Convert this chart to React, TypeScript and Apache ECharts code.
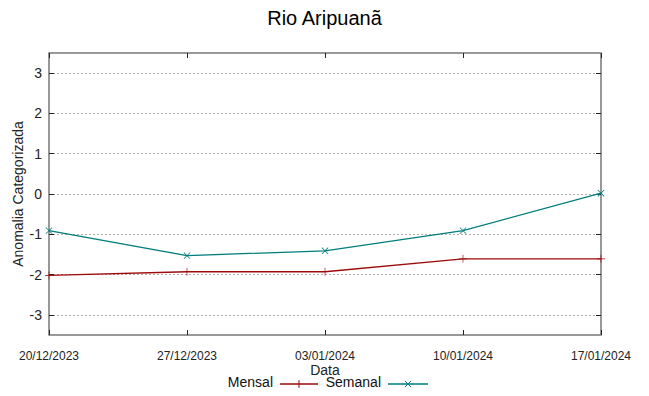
import React, { useEffect, useRef } from "react";
import * as echarts from "echarts";

const dates = ["20/12/2023", "27/12/2023", "03/01/2024", "10/01/2024", "17/01/2024"];
const mensal = [-2.02, -1.93, -1.93, -1.61, -1.61];
const semanal = [-0.91, -1.53, -1.41, -0.91, 0.02];
const yTicks = [-3, -2, -1, 0, 1, 2, 3];

const RED = "#9e0a0a";
const TEAL = "#007d7d";
const FONT = "Liberation Sans, Arial, sans-serif";
const PLUS = "path://M0,4.6L10,4.6L10,5.4L0,5.4Z M4.6,0L5.4,0L5.4,10L4.6,10Z";

export default function App() {
  const ref = useRef<HTMLDivElement>(null);
  useEffect(() => {
    if (!ref.current) return;
    const chart = echarts.init(ref.current, null, { renderer: "svg" });
    const tickStyle = { show: true, inside: true, length: 5, lineStyle: { color: "#222", width: 1 } };
    chart.setOption({
      animation: false,
      textStyle: { fontFamily: FONT },
      title: {
        text: "Rio Aripuanã",
        left: "center",
        top: 3,
        textStyle: { fontFamily: FONT, fontSize: 20, fontWeight: "normal", color: "#000" },
      },
      grid: {
        left: 49,
        right: 48,
        top: 53,
        bottom: 61,
        show: true,
        borderColor: "#777",
        borderWidth: 1.5,
        backgroundColor: "transparent",
      },
      xAxis: [
        {
          type: "category",
          data: dates,
          boundaryGap: false,
          position: "bottom",
          axisLine: { show: false, onZero: false },
          axisTick: { ...tickStyle, interval: 0 },
          axisLabel: { interval: 0, margin: 15, fontSize: 12, color: "#222", fontFamily: FONT },
          splitLine: { show: false },
          name: "Data",
          nameLocation: "middle",
          nameGap: 28,
          nameMoveOverlap: false,
          nameTextStyle: { fontSize: 14, color: "#222", fontFamily: FONT },
        },
        {
          type: "category",
          data: dates,
          boundaryGap: false,
          position: "top",
          axisLine: { show: false, onZero: false },
          axisTick: { ...tickStyle, interval: 0 },
          axisLabel: { show: false },
          splitLine: { show: false },
        },
      ],
      yAxis: [
        {
          type: "value",
          min: -3.5,
          max: 3.5,
          position: "left",
          axisLine: { show: false, onZero: false },
          axisTick: { ...tickStyle, customValues: yTicks },
          axisLabel: { customValues: yTicks, margin: 7, fontSize: 14, color: "#222", fontFamily: FONT },
          splitLine: { show: true, lineStyle: { color: "#aaa", type: [2, 2], width: 1 } },
          name: "Anomalia Categorizada",
          nameLocation: "middle",
          nameGap: 24,
          nameMoveOverlap: false,
          nameTextStyle: { fontSize: 14, color: "#222", fontFamily: FONT },
        },
        {
          type: "value",
          min: -3.5,
          max: 3.5,
          position: "right",
          axisLine: { show: false, onZero: false },
          axisTick: { ...tickStyle, customValues: yTicks },
          axisLabel: { show: false, customValues: yTicks },
          splitLine: { show: false },
        },
      ],
      series: [
        {
          name: "Mensal",
          type: "line",
          data: mensal,
          symbol: PLUS,
          symbolSize: 8,
          itemStyle: { color: RED },
          lineStyle: { color: RED, width: 1.3 },
          z: 3,
        },
        {
          name: "Semanal",
          type: "line",
          data: semanal,
          symbol: PLUS,
          symbolRotate: 45,
          symbolSize: 9,
          itemStyle: { color: TEAL },
          lineStyle: { color: TEAL, width: 1.3 },
          z: 4,
        },
      ],
      graphic: [
        { type: "text", right: 649 - 273, top: 375, style: { text: "Mensal", fontSize: 14, fontFamily: FONT, fill: "#111" } },
        { type: "line", shape: { x1: 280, y1: 384, x2: 318, y2: 384 }, style: { stroke: RED, lineWidth: 1.3 } },
        { type: "line", shape: { x1: 299, y1: 380, x2: 299, y2: 388 }, style: { stroke: RED, lineWidth: 1 } },
        { type: "text", right: 649 - 381, top: 375, style: { text: "Semanal", fontSize: 14, fontFamily: FONT, fill: "#111" } },
        { type: "line", shape: { x1: 388, y1: 384, x2: 428, y2: 384 }, style: { stroke: TEAL, lineWidth: 1.3 } },
        { type: "line", shape: { x1: 405, y1: 381, x2: 411, y2: 387 }, style: { stroke: TEAL, lineWidth: 1 } },
        { type: "line", shape: { x1: 405, y1: 387, x2: 411, y2: 381 }, style: { stroke: TEAL, lineWidth: 1 } },
      ],
    });
    return () => chart.dispose();
  }, []);
  return <div ref={ref} style={{ width: 649, height: 396, position: "absolute", left: 0, top: 0 }} />;
}
